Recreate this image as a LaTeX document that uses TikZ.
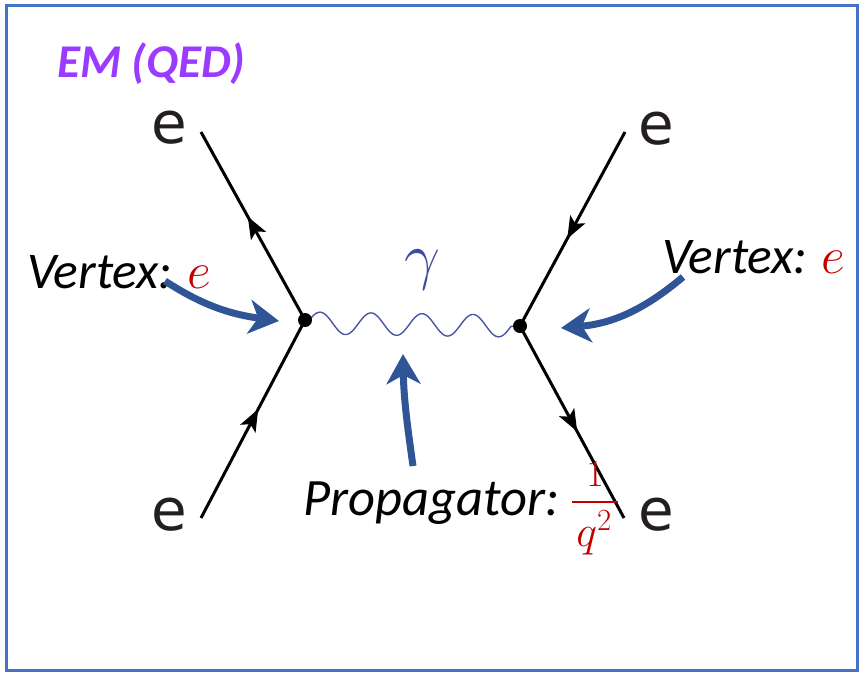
\RequirePackage{fix-cm}
\documentclass[tikz,border=0pt]{standalone}
\usepackage{fontspec}
\setmainfont{Carlito}
\newfontfamily\efont{DejaVu Sans}
\usetikzlibrary{arrows.meta,decorations.markings}
\definecolor{frameblue}{HTML}{4472C4}
\definecolor{arrblue}{HTML}{2F5597}
\definecolor{photonblue}{HTML}{4B55A8}
\definecolor{gammablue}{HTML}{3F4BA0}
\definecolor{darkred}{HTML}{C00000}
\definecolor{qedpurple}{HTML}{9B3BFF}
\definecolor{egray}{HTML}{231F20}
\tikzset{
  fermion/.style={line width=3pt, black, postaction={decorate},
    decoration={markings, mark=at position 0.55 with {\arrow{Stealth[length=22pt,width=17pt,inset=5pt]}}}},
  photon/.style={photonblue, line width=1.4pt},
  pointer/.style={arrblue, line width=7pt, -{Stealth[length=30pt,width=34pt,inset=9pt]}},
  vdot/.style={circle, fill=black, inner sep=0pt, minimum size=14pt},
  elabel/.style={font=\efont\fontsize{58}{60}\selectfont, text=egray, inner sep=0pt},
  txt/.style={font=\fontsize{51.5}{56}\selectfont\itshape, inner sep=0pt, anchor=base west},
  mathred/.style={text=darkred, inner sep=0pt}
}
\begin{document}
\begin{tikzpicture}[x=1pt,y=-1pt]
\useasboundingbox (0,0) rectangle (859,673);
\draw[frameblue, line width=3pt] (6.5,5) rectangle (857,670.5);

% title
\node[anchor=base west, inner sep=0pt, text=qedpurple, font=\fontsize{47}{52}\selectfont\bfseries\itshape] (title) at (57,77) {EM (QED)};

% vertices and end points
\coordinate (vl) at (305,320);
\coordinate (vr) at (520,326);
\coordinate (tl) at (201,132);
\coordinate (bl) at (201,518);
\coordinate (tr) at (625,132);
\coordinate (br) at (624,518);

% photon
\draw[photon] (vl) -- plot[domain=309:511, samples=220] (\x, {323+0.01485*(\x-309)-11*cos(7.0588*(\x-320))}) -- (vr);

% fermion lines
\draw[fermion] (vl) -- (tl);
\draw[fermion] (bl) -- (vl);
\draw[fermion] (tr) -- (vr);
\draw[fermion] (vr) -- (br);

\node[vdot] (dl) at (vl) {};
\node[vdot] (dr) at (vr) {};

% e labels
\node[elabel] (etl) at (169,128) {e};
\node[elabel] (ebl) at (169,515) {e};
\node[elabel] (etr) at (656,129) {e};
\node[elabel] (ebr) at (656,515) {e};

% gamma
\node[text=gammablue, inner sep=0pt, font=\fontsize{64}{66}\selectfont] (gam) at (422,270) {$\gamma$};

% vertex labels
\node[txt] (vtxl) at (27,288) {Vertex:};
\node[mathred, anchor=base west, font=\fontsize{52}{60}\selectfont] (cl) at (187,288) {$e$};
\node[txt] (vtxr) at (662,273) {Vertex:};
\node[mathred, anchor=base west, font=\fontsize{52}{60}\selectfont] (cr) at (821,273) {$e$};

% propagator
\node[txt, font=\fontsize{52.5}{56}\selectfont\itshape] (prop) at (303,515) {Propagator:};
\node[mathred, font=\fontsize{38}{40}\selectfont] (num) at (595,474) {$1$};
\node[mathred, font=\fontsize{44}{46}\selectfont] (den) at (594,533) {$q^2$};
\draw[darkred, line width=2.6pt] (572,502) -- (618,502);

% pointer arrows
\coordinate (pl0) at (165,281);
\coordinate (pl1) at (279,321);
\coordinate (pr0) at (683,277);
\coordinate (pr1) at (561,328);
\coordinate (pb0) at (413,466);
\coordinate (pb1) at (403,354);
\draw[pointer] (pl0) to[out=-33,in=172] (pl1);
\draw[pointer] (pr0) to[out=-140,in=5] (pr1);
\draw[pointer] (pb0) to[out=98,in=-89] (pb1);
\end{tikzpicture}
\end{document}
